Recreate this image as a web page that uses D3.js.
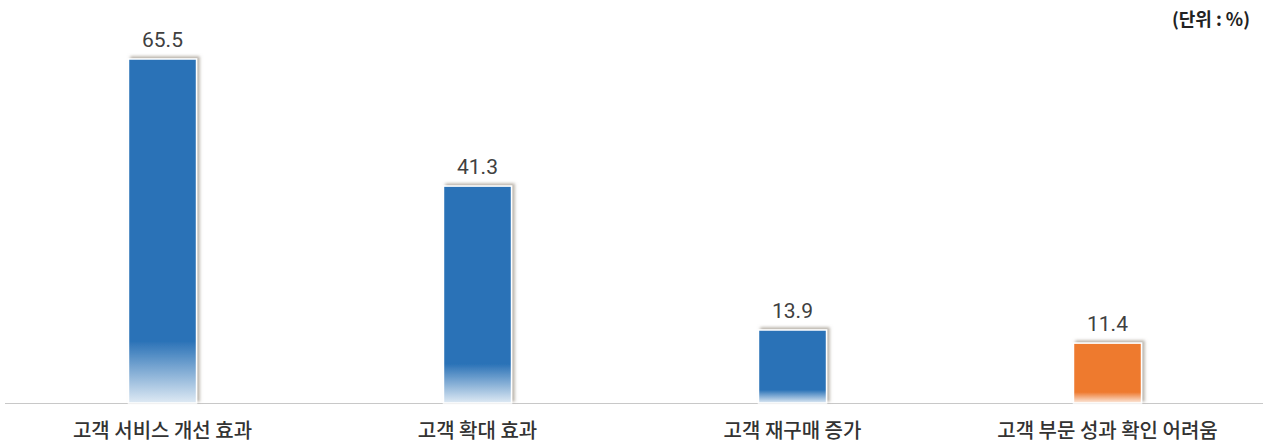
<!DOCTYPE html>
<html>
<head>
<meta charset="utf-8">
<script src="https://cdn.jsdelivr.net/npm/d3@7"></script>
<style>
body { margin: 0; background: #fff; }
text { font-family: "Noto Sans CJK KR", "Noto Sans", sans-serif; }
.value { font-family: Roboto, "Noto Sans", sans-serif; font-size: 21px; fill: #404040; }
.cat { font-size: 20px; font-weight: 500; fill: #333; }
.unit { font-size: 18px; font-weight: 700; fill: #222; }
</style>
</head>
<body>
<div id="drawing"></div>
<script>
"use strict"

/**** Config ****/
let svgWidth = 1265
let svgHeight = 445
let baseY = 403
let topY = 59

/**** Data ****/
let categories = ["고객 서비스 개선 효과", "고객 확대 효과", "고객 재구매 증가", "고객 부문 성과 확인 어려움"]
let values = [65.5, 41.3, 13.9, 11.4]
let colors = ["#2a72b7", "#2a72b7", "#2a72b7", "#ee7a2f"]
let unitLabel = "(단위 : %)"

let dataset = categories.map((c, i) => ({cat: c, value: values[i], color: colors[i]}))

let svg = d3.select("#drawing")
.append("svg")
.attr("width", svgWidth)
.attr("height", svgHeight)

/**** Scales ****/
let xScale = d3.scaleBand()
.domain(categories)
.range([5, 1265])
.paddingInner(0.784)
.paddingOuter(0.392)

let yScale = d3.scaleLinear()
.domain([0, 65.5])
.range([baseY, topY])

/**** Defs: gradients and shadow ****/
let defs = svg.append("defs")

let filter = defs.append("filter")
.attr("id", "shadow")
.attr("x", "-20%").attr("y", "-20%")
.attr("width", "140%").attr("height", "140%")
filter.append("feDropShadow")
.attr("dx", 2.5).attr("dy", -2)
.attr("stdDeviation", 1.5)
.attr("flood-color", "#8a8070")
.attr("flood-opacity", 0.6)

dataset.forEach(function(d, i){
    let g = defs.append("linearGradient")
    .attr("id", "grad" + i)
    .attr("x1", 0).attr("y1", 0)
    .attr("x2", 0).attr("y2", 1)
    g.append("stop").attr("offset", "82%").attr("stop-color", d.color)
    g.append("stop").attr("offset", "100%").attr("stop-color", d3.interpolateRgb(d.color, "#ffffff")(0.85))
})

/**** Baseline ****/
svg.append("line")
.attr("x1", 5)
.attr("x2", 1263)
.attr("y1", baseY + 0.5)
.attr("y2", baseY + 0.5)
.attr("stroke", "#c8c8c8")
.attr("stroke-width", 1)

/**** Bars ****/
svg.selectAll("rect.bar")
.data(dataset)
.join("rect")
.attr("class", "bar")
.attr("x", d => xScale(d.cat))
.attr("y", d => yScale(d.value))
.attr("width", xScale.bandwidth())
.attr("height", d => baseY - yScale(d.value))
.attr("fill", (d, i) => "url(#grad" + i + ")")
.attr("stroke", "#ffffff")
.attr("stroke-width", 1.5)
.attr("filter", "url(#shadow)")

/**** Value labels ****/
svg.selectAll("text.value")
.data(dataset)
.join("text")
.attr("class", "value")
.attr("x", d => xScale(d.cat) + xScale.bandwidth() / 2)
.attr("y", d => yScale(d.value) - 12)
.attr("text-anchor", "middle")
.text(d => d.value.toFixed(1))

/**** Category labels ****/
svg.selectAll("text.cat")
.data(dataset)
.join("text")
.attr("class", "cat")
.attr("x", d => xScale(d.cat) + xScale.bandwidth() / 2)
.attr("y", 438)
.attr("text-anchor", "middle")
.text(d => d.cat)

/**** Unit ****/
svg.append("text")
.attr("class", "unit")
.attr("x", 1250)
.attr("y", 26)
.attr("text-anchor", "end")
.text(unitLabel)
</script>
</body>
</html>
